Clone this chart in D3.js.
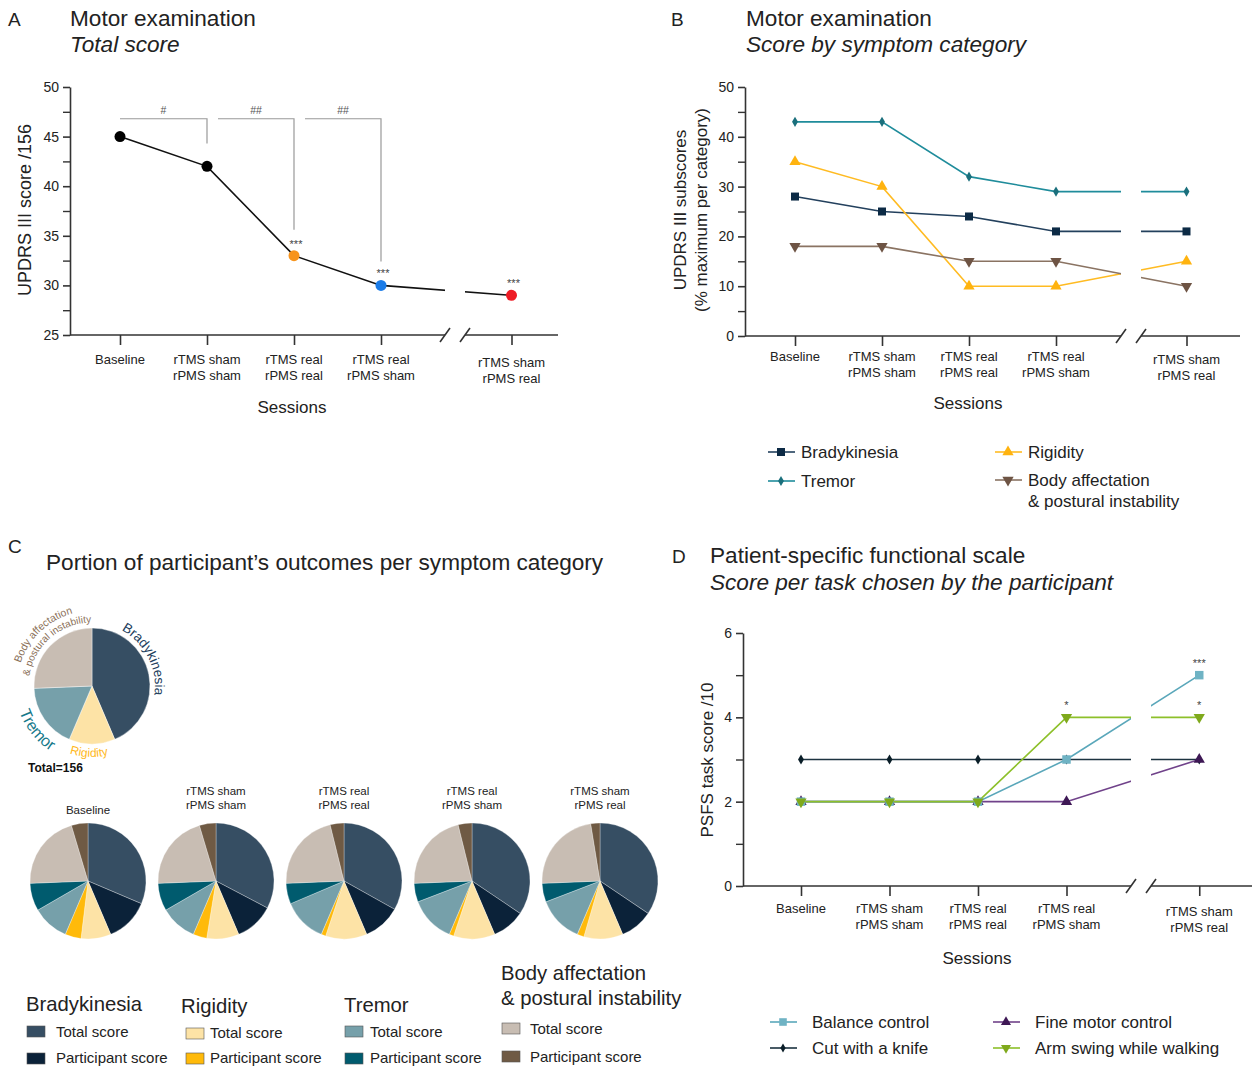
<!DOCTYPE html>
<html><head><meta charset="utf-8">
<script src="https://cdn.jsdelivr.net/npm/d3@7"></script>
<style>body{margin:0;background:#fff}svg{display:block}</style>
</head><body><svg id="c" width="1259" height="1066"></svg>
<script>
// ---------------- DATA ----------------
const sessions = [["Baseline"],["rTMS sham","rPMS sham"],["rTMS real","rPMS real"],["rTMS real","rPMS sham"],["rTMS sham","rPMS real"]];
const sessionPos = [0,1,2,3,4.5];

// Panel A
const totalScore = [45,42,33,30,29];
const totalColors = ["#000000","#000000","#f7941d","#1b7ce8","#ee1c25"];
const totalSig = ["","","***","***","***"];
const brackets = [{from:0,to:1,label:"#",end:44.3},{from:1,to:2,label:"##",end:35.6},{from:2,to:3,label:"##",end:32.4}];
const ticksA = [25,30,35,40,45,50];
const minorA = [27.5,32.5,37.5,42.5,47.5];

// Panel B (% maximum per category)
const bradykinesia = [28,25,24,21,21];
const tremor = [43,43,32,29,29];
const rigidity = [35,30,10,10,15];
const bodyAffect = [18,18,15,15,10];
const ticksB = [0,10,20,30,40,50];
const minorB = [5,15,25,35,45];

// Panel C (max points per category, total 156)
const categoryNames = ["Bradykinesia","Rigidity","Tremor","Body affectation & postural instability"];
const categoryMax = [68,20,28,40];
const totalColorsC = ["#364e63","#fde3a6","#76a0aa","#c8bdb3"];
const partColorsC = ["#0b2239","#ffba0a","#005b6e","#6f5a44"];

// Panel D
const balanceControl = [2,2,2,3,5];
const cutKnife = [3,3,3,3,3];
const fineMotor = [2,2,2,2,3];
const armSwing = [2,2,2,4,4];
const ticksD = [0,2,4,6];
const minorD = [1,3,5];

// ---------------- DRAW ----------------
const FONT = '"Liberation Sans", Arial, Helvetica, sans-serif';
const svg = d3.select("#c").attr("font-family", FONT);
const TXT = "#222";

function txt(x, y, s, size, opts = {}) {
  const t = svg.append("text").attr("x", x).attr("y", y).attr("font-size", size)
    .attr("fill", opts.fill || TXT).text(s);
  if (opts.anchor) t.attr("text-anchor", opts.anchor);
  if (opts.italic) t.attr("font-style", "italic");
  if (opts.bold) t.attr("font-weight", "bold");
  return t;
}
function vtxt(x, y, s, size) {
  return svg.append("text").attr("transform", `translate(${x},${y}) rotate(-90)`)
    .attr("text-anchor", "middle").attr("font-size", size).attr("fill", TXT).text(s);
}

function axes(c) {
  const g = svg.append("g");
  const y0 = c.y.range()[0];
  const ya = g.append("g").attr("transform", `translate(${c.axisX},0)`)
    .call(d3.axisLeft(c.y).tickValues(c.major).tickFormat(d3.format("d")).tickSize(7).tickSizeOuter(0).tickPadding(4));
  ya.selectAll("text").attr("font-size", 14).attr("fill", TXT).attr("font-family", FONT);
  ya.selectAll("line,path").attr("stroke", "#333").attr("stroke-width", 1.6);
  const ym = g.append("g").attr("transform", `translate(${c.axisX},0)`)
    .call(d3.axisLeft(c.y).tickValues(c.minor).tickSize(7).tickFormat(""));
  ym.select(".domain").remove();
  ym.selectAll("line").attr("stroke", "#333").attr("stroke-width", 1.4);
  const xa = g.append("g").attr("transform", `translate(0,${y0})`)
    .call(d3.axisBottom(c.x).tickValues(sessionPos).tickSize(10).tickFormat(""));
  xa.select(".domain").remove();
  xa.selectAll("line").attr("stroke", "#333").attr("stroke-width", 1.6);
  sessions.forEach((lines, i) => {
    lines.forEach((s, k) => {
      txt(c.x(sessionPos[i]), c.labelY + k * 16 + (i === 4 ? 3 : 0), s, 13, {anchor: "middle"});
    });
  });
  return g;
}
function axisLineWithBreak(c) {
  const y0 = c.y.range()[0];
  const g = svg.append("g").attr("stroke", "#333").attr("stroke-width", 1.6);
  g.append("rect").attr("x", c.gapC - c.gapW).attr("y", c.y.range()[1] - 5).attr("width", 2 * c.gapW)
    .attr("height", y0 - c.y.range()[1] + 8).attr("fill", "#fff").attr("stroke", "none");
  g.append("line").attr("x1", c.axisX).attr("x2", c.gapC - c.gapW).attr("y1", y0).attr("y2", y0);
  g.append("line").attr("x1", c.gapC + c.gapW).attr("x2", c.xEnd).attr("y1", y0).attr("y2", y0);
  [c.gapC - c.gapW, c.gapC + c.gapW].forEach(xx => {
    g.append("line").attr("x1", xx - 5).attr("y1", y0 + 7).attr("x2", xx + 5).attr("y2", y0 - 7);
  });
}
function drawSeries(c, vals, color, width) {
  const pts = sessionPos.map((p, i) => [p, vals[i]]);
  svg.append("path").attr("d", d3.line().x(d => c.x(d[0])).y(d => c.y(d[1]))(pts))
    .attr("fill", "none").attr("stroke", color).attr("stroke-width", width || 1.6);
}
function markers(c, vals, type, size, fill, rot) {
  const sym = d3.symbol().type(type).size(size)();
  sessionPos.forEach((p, i) => {
    svg.append("path").attr("d", sym).attr("fill", fill)
      .attr("transform", `translate(${c.x(p)},${c.y(vals[i])})${rot ? " rotate(180)" : ""}`);
  });
}

const TITLE = 22.6;
// ===== Panel A =====
txt(8, 26, "A", 19);
txt(70, 26, "Motor examination", TITLE);
txt(70, 52, "Total score", TITLE, {italic: true});
const cA = {
  x: d3.scaleLinear().domain([0, 1]).range([120, 207]),
  y: d3.scaleLinear().domain([25, 50]).range([335, 87]),
  axisX: 70, xEnd: 558, major: ticksA, minor: minorA, labelY: 364, gapC: 455, gapW: 10
};
axes(cA);
vtxt(31, 210, "UPDRS III score /156", 18);
txt(292, 413, "Sessions", 17, {anchor: "middle"});
drawSeries(cA, totalScore, "#111", 1.6);
axisLineWithBreak(cA);
sessionPos.forEach((p, i) => {
  svg.append("circle").attr("cx", cA.x(p)).attr("cy", cA.y(totalScore[i])).attr("r", 5.5).attr("fill", totalColors[i]);
  if (totalSig[i]) txt(cA.x(p) + 2, cA.y(totalScore[i]) - 8, totalSig[i], 11, {anchor: "middle", fill: "#444"});
});
brackets.forEach((b, j) => {
  const xs = cA.x(b.from) + (j ? 11 : 0), xe = cA.x(b.to), yt = cA.y(46.8);
  svg.append("path").attr("d", `M${xs},${yt}H${xe}V${cA.y(b.end)}`).attr("fill", "none")
    .attr("stroke", "#999").attr("stroke-width", 1.2);
  txt((xs + xe) / 2, yt - 5, b.label, 10.5, {anchor: "middle", fill: "#555"});
});

// ===== Panel B =====
txt(671, 26, "B", 19);
txt(746, 26, "Motor examination", TITLE);
txt(746, 52, "Score by symptom category", TITLE, {italic: true});
const cB = {
  x: d3.scaleLinear().domain([0, 1]).range([795, 882]),
  y: d3.scaleLinear().domain([0, 50]).range([336, 87]),
  axisX: 745, xEnd: 1240, major: ticksB, minor: minorB, labelY: 361, gapC: 1131, gapW: 10
};
axes(cB);
vtxt(686, 210, "UPDRS III subscores", 17);
vtxt(707, 210, "(% maximum per category)", 17);
txt(968, 409, "Sessions", 17, {anchor: "middle"});
const seriesB = [
  {v: tremor, line: "#1f8c9b", mk: "#1a6f7c", type: d3.symbolDiamond, size: 30},
  {v: bradykinesia, line: "#23405d", mk: "#0c2a45", type: d3.symbolSquare, size: 64},
  {v: rigidity, line: "#ffbb22", mk: "#ffb30f", type: d3.symbolTriangle, size: 55},
  {v: bodyAffect, line: "#8a7362", mk: "#6e5444", type: d3.symbolTriangle, size: 55, rot: true}
];
seriesB.forEach(s => drawSeries(cB, s.v, s.line, 1.6));
axisLineWithBreak(cB);
seriesB.forEach(s => markers(cB, s.v, s.type, s.size, s.mk, s.rot));
const legB = [
  {s: seriesB[1], x: 768, y: 452, t: ["Bradykinesia"]},
  {s: seriesB[0], x: 768, y: 481, t: ["Tremor"]},
  {s: seriesB[2], x: 995, y: 452, t: ["Rigidity"]},
  {s: seriesB[3], x: 995, y: 480, t: ["Body affectation", "& postural instability"]}
];
legB.forEach(l => {
  svg.append("line").attr("x1", l.x).attr("x2", l.x + 27).attr("y1", l.y).attr("y2", l.y)
    .attr("stroke", l.s.line).attr("stroke-width", 1.6);
  svg.append("path").attr("d", d3.symbol().type(l.s.type).size(l.s.size)()).attr("fill", l.s.mk)
    .attr("transform", `translate(${l.x + 13},${l.y})${l.s.rot ? " rotate(180)" : ""}`);
  l.t.forEach((s, k) => txt(l.x + 33, l.y + 6 + k * 21, s, 17));
});

// ===== Panel C =====
txt(8, 553, "C", 19);
txt(46, 570, "Portion of participant\u2019s outcomes per symptom category", TITLE);
const deg = Math.PI / 180;
function pt(cx, cy, r, a) { return [cx + r * Math.sin(a * deg), cy - r * Math.cos(a * deg)]; }
function arcD(cx, cy, r, a0, a1) {
  const p0 = pt(cx, cy, r, a0), p1 = pt(cx, cy, r, a1);
  return `M${p0[0]},${p0[1]}A${r},${r} 0 0 ${a1 > a0 ? 1 : 0} ${p1[0]},${p1[1]}`;
}
const bigC = [92, 686], bigR = 58;
const pieGen = d3.pie().sort(null).value(d => d);
const arcGen = d3.arc().innerRadius(0);
const gBig = svg.append("g").attr("transform", `translate(${bigC[0]},${bigC[1]})`);
gBig.selectAll("path").data(pieGen(categoryMax)).join("path")
  .attr("d", d => arcGen.outerRadius(bigR)(d)).attr("fill", (d, i) => totalColorsC[i])
  .attr("stroke", "#fff").attr("stroke-width", 0.4);
const curved = [
  {id: "cb", r: 63, a0: 24, a1: 102, t: "Bradykinesia", size: 13.5, fill: "#23405d"},
  {id: "cr", r: 71, a0: 205, a1: 160, t: "Rigidity", size: 12, fill: "#ffb81c"},
  {id: "ct", r: 77, a0: 258, a1: 205, t: "Tremor", size: 16, fill: "#16798a"},
  {id: "cba", r: 75, a0: 283, a1: 350, t: "Body affectation", size: 10.5, fill: "#8a6f58"},
  {id: "cbb", r: 63.5, a0: 279, a1: 359, t: "& postural instability", size: 10, fill: "#8a6f58"}
];
const defs = svg.append("defs");
curved.forEach(c => {
  defs.append("path").attr("id", c.id).attr("d", arcD(bigC[0], bigC[1], c.r, c.a0, c.a1));
  svg.append("text").attr("font-size", c.size).attr("fill", c.fill)
    .append("textPath").attr("href", "#" + c.id).attr("startOffset", "50%").attr("text-anchor", "middle").text(c.t);
});
txt(28, 772, "Total=156", 12, {bold: true, fill: "#111"});

const partPct = sessionPos.map((p, i) => [bradykinesia[i], rigidity[i], tremor[i], bodyAffect[i]]);
const pieCx = [88, 216, 344, 472, 600], pieCy = 881, pieR = 58;
partPct.forEach((pcts, i) => {
  const vals = [], cols = [];
  categoryMax.forEach((m, k) => {
    vals.push(m * (1 - pcts[k] / 100)); cols.push(totalColorsC[k]);
    vals.push(m * pcts[k] / 100); cols.push(partColorsC[k]);
  });
  const g = svg.append("g").attr("transform", `translate(${pieCx[i]},${pieCy})`);
  g.selectAll("path").data(pieGen(vals)).join("path")
    .attr("d", d => arcGen.outerRadius(pieR)(d)).attr("fill", (d, j) => cols[j])
    .attr("stroke", "#fff").attr("stroke-width", 0.3);
  const lines = sessions[i];
  lines.forEach((s, k) => {
    const yy = lines.length === 1 ? 814 : 795 + k * 14;
    txt(pieCx[i], yy, s, 11.5, {anchor: "middle"});
  });
});
const legC = [
  {h: ["Bradykinesia"], hx: 26, hy: 1011, sx: 27, tx: 56, sy: [1026, 1053], ty: [1037, 1063]},
  {h: ["Rigidity"], hx: 181, hy: 1013, sx: 186, tx: 210, sy: [1028, 1053], ty: [1038, 1063]},
  {h: ["Tremor"], hx: 344, hy: 1012, sx: 345, tx: 370, sy: [1026, 1053], ty: [1037, 1063]},
  {h: ["Body affectation", "& postural instability"], hx: 501, hy: 980, sx: 502, tx: 530, sy: [1023, 1051], ty: [1034, 1062]}
];
legC.forEach((l, k) => {
  l.h.forEach((s, j) => txt(l.hx, l.hy + j * 25, s, 20.3));
  [totalColorsC[k], partColorsC[k]].forEach((col, j) => {
    svg.append("rect").attr("x", l.sx).attr("y", l.sy[j]).attr("width", 18).attr("height", 11)
      .attr("fill", col).attr("stroke", "#555").attr("stroke-width", 0.6);
    txt(l.tx, l.ty[j], j ? "Participant score" : "Total score", 15);
  });
});

// ===== Panel D =====
txt(672, 563, "D", 19);
txt(710, 563, "Patient-specific functional scale", TITLE);
txt(710, 590, "Score per task chosen by the participant", TITLE, {italic: true});
const cD = {
  x: d3.scaleLinear().domain([0, 1]).range([801, 889.5]),
  y: d3.scaleLinear().domain([0, 6]).range([886, 633]),
  axisX: 743, xEnd: 1252, major: ticksD, minor: minorD, labelY: 913, gapC: 1141, gapW: 10
};
axes(cD);
vtxt(713, 760, "PSFS task score /10", 17);
txt(977, 964, "Sessions", 17, {anchor: "middle"});
const seriesD = [
  {v: cutKnife, line: "#1c3340", mk: "#0a1e28", type: d3.symbolDiamond, size: 30, t: "Cut with a knife"},
  {v: fineMotor, line: "#70428a", mk: "#3e1855", type: d3.symbolTriangle, size: 55, t: "Fine motor control"},
  {v: balanceControl, line: "#5aa7ba", mk: "#6fb3c4", type: d3.symbolSquare, size: 72, t: "Balance control"},
  {v: armSwing, line: "#8dc02a", mk: "#7fa91c", type: d3.symbolTriangle, size: 55, rot: true, t: "Arm swing while walking"}
];
seriesD.forEach(s => drawSeries(cD, s.v, s.line, 1.6));
axisLineWithBreak(cD);
seriesD.forEach(s => markers(cD, s.v, s.type, s.size, s.mk, s.rot));
txt(cD.x(3), cD.y(4) - 8, "*", 11, {anchor: "middle", fill: "#444"});
txt(cD.x(4.5), cD.y(5) - 8, "***", 11, {anchor: "middle", fill: "#444"});
txt(cD.x(4.5), cD.y(4) - 8, "*", 11, {anchor: "middle", fill: "#444"});
const legD = [
  {s: seriesD[2], x: 770, y: 1022},
  {s: seriesD[0], x: 770, y: 1048},
  {s: seriesD[1], x: 993, y: 1022},
  {s: seriesD[3], x: 993, y: 1048}
];
legD.forEach(l => {
  svg.append("line").attr("x1", l.x).attr("x2", l.x + 27).attr("y1", l.y).attr("y2", l.y)
    .attr("stroke", l.s.line).attr("stroke-width", 1.6);
  svg.append("path").attr("d", d3.symbol().type(l.s.type).size(l.s.size * 0.8)()).attr("fill", l.s.mk)
    .attr("transform", `translate(${l.x + 13},${l.y})${l.s.rot ? " rotate(180)" : ""}`);
  txt(l.x + 42, l.y + 6, l.s.t, 17);
});
</script></body></html>
